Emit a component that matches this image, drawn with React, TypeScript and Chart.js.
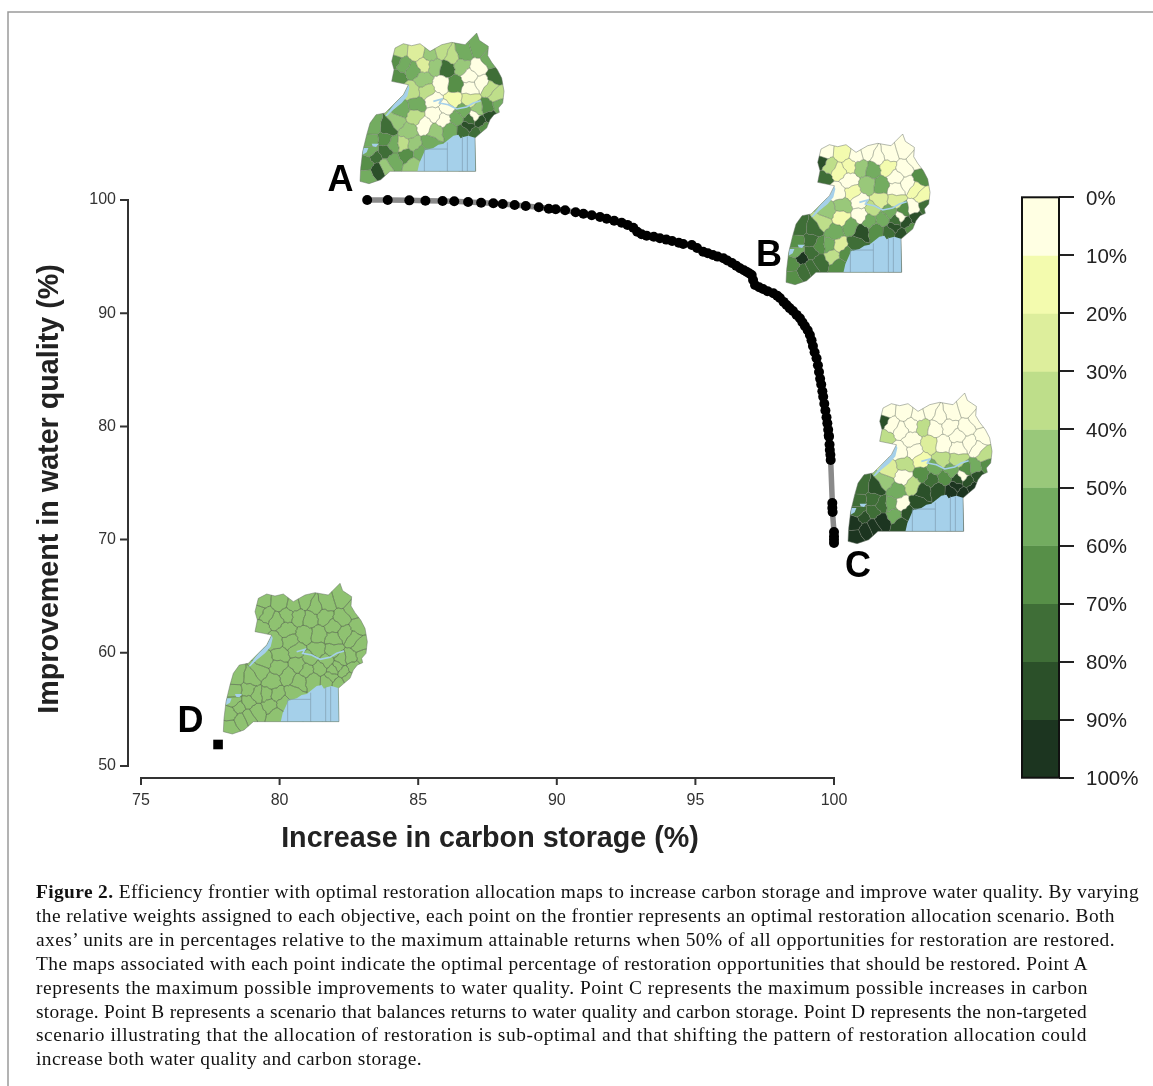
import React, { useEffect, useRef } from "react";
import { Chart, registerables } from "chart.js";

Chart.register(...registerables);

// ---- chart data ----
const carbonStorage = [
  83.16, 83.9, 84.68, 85.26, 85.88, 86.3, 86.8, 87.27, 87.71, 88.05, 88.48, 88.88, 89.35, 89.71, 89.96, 90.3, 90.68,
  90.96, 91.26, 91.56, 91.8, 92.07, 92.34, 92.55, 92.76, 92.9, 93.06, 93.24, 93.5, 93.72, 93.95, 94.16, 94.4, 94.56,
  94.87, 95.06, 95.28, 95.45, 95.63, 95.8, 96.01, 96.15, 96.32, 96.47, 96.61, 96.75, 96.86, 96.95, 97.03, 97.08, 97.15,
  97.3, 97.44, 97.6, 97.81, 97.95, 98.05, 98.18, 98.29, 98.4, 98.52, 98.65, 98.77, 98.86, 98.95, 99.05, 99.13, 99.19,
  99.24, 99.3, 99.37, 99.42, 99.46, 99.5, 99.54, 99.58, 99.61, 99.65, 99.69, 99.73, 99.76, 99.79, 99.81, 99.82, 99.84,
  99.85, 99.87, 99.88, 99.94, 99.94, 99.95, 100, 100, 100, 100,
];
const waterQuality = [
  100, 100, 99.97, 99.94, 99.91, 99.89, 99.82, 99.76, 99.71, 99.65, 99.56, 99.47, 99.36, 99.23, 99.18, 99.09, 98.91,
  98.79, 98.65, 98.5, 98.35, 98.17, 97.99, 97.8, 97.55, 97.2, 96.97, 96.85, 96.75, 96.62, 96.5, 96.38, 96.22, 96.11,
  96.02, 95.76, 95.43, 95.3, 95.14, 95.0, 94.85, 94.65, 94.43, 94.2, 93.97, 93.8, 93.64, 93.5, 93.37, 92.93, 92.49,
  92.3, 92.14, 91.95, 91.76, 91.55, 91.34, 91.0, 90.72, 90.45, 90.19, 89.85, 89.55, 89.2, 88.87, 88.5, 88.07, 87.6,
  87.1, 86.55, 86.02, 85.4, 84.8, 84.2, 83.7, 83.1, 82.62, 82.0, 81.4, 80.8, 80.27, 79.7, 79.2, 79.09, 78.4,
  77.92, 77.5, 77.03, 73.23, 72.8, 72.44, 70.67, 70.3, 70.0, 69.7,
];
const nonTargetedCarbon = [77.78];
const nonTargetedWater = [51.9];
const xTicks = [75, 80, 85, 90, 95, 100];
const yTicks = [50, 60, 70, 80, 90, 100];
const pointLabels = ["A", "B", "C", "D"];
const xTitle = "Increase in carbon storage (%)";
const yTitle = "Improvement in water quality (%)";

const legendTicks = [0, 10, 20, 30, 40, 50, 60, 70, 80, 90, 100];
const legendColors = [
  "#FFFFE3", "#F3FBAE", "#DDEE9C", "#BEDE8A", "#99C87A", "#73AC60", "#578F48", "#3F6E37", "#2B5029", "#1C3520",
];

// district shading class
const mapALevels = [3,2,5,6,6,5,4,3,5,5,4,7,4,0,7,3,0,0,6,0,3,3,5,5,0,1,2,6,4,0,3,4,0,5,7,8,6,7,5,4,4,5,7,7,5,5,4,5,6,4,7,6,8,5,5,6,4,5,0, 0,3,2,5,8,0,5,0,8,3,5,7,4,5,3];
const mapBLevels = [0,1,3,8,7,1,0,0,0,0,4,5,1,0,6,1,0,0,5,4,1,0,4,4,0,2,2,0,6,0,1,3,5,5,7,8,6,7,7,5,8,6,7,8,6,6,2,7,3,6,9,6,7,7,6,7,0,0,5, 0,0,1,7,8,0,5,3,8,5,6,7,7,5,1];
const mapCLevels = [0,0,0,8,3,0,0,0,0,0,3,0,0,0,0,3,0,0,0,2,0,0,3,2,1,3,3,5,6,6,0,4,3,6,8,8,9,8,7,5,8,8,9,9,7,7,0,8,5,8,8,9,9,9,9,7,0,0,7, 0,0,0,6,8,0,5,5,9,5,8,7,9,7,0];
const mapDColor = "#8FC271";

const captionLines = [
  ["Figure 2.", " Efficiency frontier with optimal restoration allocation maps to increase carbon storage and improve water quality. By varying"],
  ["", "the relative weights assigned to each objective, each point on the frontier represents an optimal restoration allocation scenario. Both"],
  ["", "axes\u2019 units are in percentages relative to the maximum attainable returns when 50% of all opportunities for restoration are restored."],
  ["", "The maps associated with each point indicate the optimal percentage of restoration opportunities that should be restored. Point A"],
  ["", "represents the maximum possible improvements to water quality. Point C represents the maximum possible increases in carbon"],
  ["", "storage. Point B represents a scenario that balances returns to water quality and carbon storage. Point D represents the non-targeted"],
  ["", "scenario illustrating that the allocation of restoration is sub-optimal and that shifting the pattern of restoration allocation could"],
  ["", "increase both water quality and carbon storage."],
];
const captionRight = [1139, 1115, 1115, 1088, 1088, 1087, 1087, 422];

// ---- inset map geometry (map units, 3 units = 1 px) ----
type P = [number, number];
const landOutline: P[] = [
  [660,40],[668,62],[680,70],[695,80],[693,108],[705,128],[722,150],[735,175],[742,215],[738,250],[725,265],[728,278],
  [712,285],[700,300],[690,325],[672,340],[655,355],[657,455],[400,455],[372,480],[337,492],[310,485],[312,445],[318,395],
  [330,345],[340,310],[358,285],[385,280],[415,250],[440,225],[455,195],[430,190],[405,185],[412,150],[405,125],[415,85],
  [440,72],[465,78],[490,72],[520,95],[555,75],[585,68],[625,75],
];
const lakeVictoria: P[] = [
  [482,456],[488,430],[505,392],[530,385],[545,375],[560,372],[575,360],[590,348],[605,345],[612,356],[620,352],[635,348],[657,355],[657,456],
];
const lakeAlbert: P[] = [[385,290],[415,250],[440,225],[455,195],[458,205],[452,230],[435,250],[410,270],[392,288]];
const lakeEdward: P[] = [[318,385],[335,385],[330,398],[318,405]];
const lakeGeorge: P[] = [[345,372],[366,372],[358,382],[348,380]];
const kyogaLine: P[] = [[530,245],[555,238],[548,250],[575,255],[600,268],[630,262],[650,250],[672,243]];
const lakeBorders: P[][] = [
  [[503,390],[503,455]], [[503,388],[572,388]], [[572,368],[572,455]], [[617,350],[617,455]], [[632,350],[632,455]],
];
const districtSeeds: P[] = [
  [425,95],[480,100],[440,135],[415,122],[420,175],[470,150],[500,180],[555,95],[620,100],[665,85],[535,140],[570,145],
  [615,140],[665,145],[715,170],[720,225],[675,190],[640,205],[595,195],[555,195],[510,215],[465,215],[480,255],[435,270],
  [530,240],[590,240],[640,240],[690,265],[665,270],[535,285],[475,290],[420,305],[505,318],[600,295],[640,300],[700,290],
  [685,325],[395,325],[350,320],[455,335],[535,335],[580,330],[620,335],[655,340],[345,365],[410,375],[470,375],[520,370],
  [450,405],[470,435],[355,410],[330,430],[365,450],[410,425],[330,470],[385,360],[520,105],[700,120],[560,300],
  [640,170],[585,110],[500,135],[730,260],[670,305],[655,290],[620,275],[570,265],[635,320],[440,375],[490,400],[385,395],
  [385,440],[345,395],[700,205],
];
const mapOrigins: P[] = [[256.7, 19.7], [682.7, 120.7], [744.7, 379.7], [120, 570]];
const labelCenters: P[] = [[340.5, 181], [769, 256], [858, 567], [190.5, 722]];

function voronoiCell(i: number): P[] {
  let poly: P[] = [[250, 0], [800, 0], [800, 520], [250, 520]];
  const a = districtSeeds[i];
  districtSeeds.forEach((b, j) => {
    if (j === i) return;
    const mx = (a[0] + b[0]) / 2, my = (a[1] + b[1]) / 2;
    const nx = b[0] - a[0], ny = b[1] - a[1];
    const side = (p: P) => (p[0] - mx) * nx + (p[1] - my) * ny;
    const out: P[] = [];
    poly.forEach((p, k) => {
      const q = poly[(k + 1) % poly.length];
      const sp = side(p), sq = side(q);
      if (sp <= 0) out.push(p);
      if ((sp < 0 && sq > 0) || (sp > 0 && sq < 0)) {
        const t = sp / (sp - sq);
        out.push([p[0] + (q[0] - p[0]) * t, p[1] + (q[1] - p[1]) * t]);
      }
    });
    poly = out;
  });
  return poly;
}

// district edges bend a little, the same way seen from both sides
function bendEdges(cell: P[]): P[] {
  const out: P[] = [];
  cell.forEach((p, k) => {
    const q = cell[(k + 1) % cell.length];
    out.push(p);
    const swap = p[0] > q[0] || (p[0] === q[0] && p[1] > q[1]);
    const s = swap ? q : p, e = swap ? p : q;
    const dx = e[0] - s[0], dy = e[1] - s[1];
    const len = Math.hypot(dx, dy);
    if (len < 14) return;
    const phase = Math.round(s[0] + e[0]) * 0.37 + Math.round(s[1] + e[1]) * 0.71;
    const pts: P[] = [0.25, 0.5, 0.75].map((t, m) => {
      const off = Math.sin(phase + m * 2.1) * Math.min(2.5, len * 0.07);
      return [s[0] + dx * t - (dy / len) * off, s[1] + dy * t + (dx / len) * off];
    });
    if (swap) pts.reverse();
    pts.forEach((pt) => out.push(pt));
  });
  return out;
}
const districtCells = districtSeeds.map((_, i) => bendEdges(voronoiCell(i)));

function tracePoly(ctx: CanvasRenderingContext2D, o: P, pts: P[], close = true) {
  ctx.beginPath();
  pts.forEach((p, i) => {
    const x = o[0] + p[0] / 3, y = o[1] + p[1] / 3;
    if (i === 0) ctx.moveTo(x, y); else ctx.lineTo(x, y);
  });
  if (close) ctx.closePath();
}

function drawMap(ctx: CanvasRenderingContext2D, o: P, colorOf: (i: number) => string, edge: string) {
  ctx.save();
  tracePoly(ctx, o, landOutline);
  ctx.clip();
  districtCells.forEach((cell, i) => {
    tracePoly(ctx, o, cell);
    ctx.fillStyle = colorOf(i);
    ctx.fill();
  });
  ctx.lineWidth = 0.5;
  ctx.strokeStyle = edge;
  districtCells.forEach((cell) => {
    tracePoly(ctx, o, cell);
    ctx.stroke();
  });
  const blue = "#A5D0EA";
  [lakeVictoria, lakeAlbert, lakeEdward, lakeGeorge].forEach((l) => {
    tracePoly(ctx, o, l);
    ctx.fillStyle = blue;
    ctx.fill();
  });
  tracePoly(ctx, o, kyogaLine, false);
  ctx.strokeStyle = blue;
  ctx.lineWidth = 1.6;
  ctx.stroke();
  ctx.strokeStyle = "#7F9DB0";
  ctx.lineWidth = 0.7;
  lakeBorders.forEach((l) => {
    tracePoly(ctx, o, l, false);
    ctx.stroke();
  });
  ctx.restore();
  tracePoly(ctx, o, landOutline);
  ctx.lineWidth = 0.6;
  ctx.strokeStyle = "rgba(100,110,100,0.8)";
  ctx.stroke();
}

const mapsAndAxes = {
  id: "mapsAndAxes",
  beforeDatasetsDraw(chart: any) {
    const ctx: CanvasRenderingContext2D = chart.ctx;
    const { x, y } = chart.scales;
    // page frame
    ctx.strokeStyle = "#9a9a9a";
    ctx.lineWidth = 1.5;
    ctx.beginPath();
    ctx.moveTo(8, 1086);
    ctx.lineTo(8, 12);
    ctx.lineTo(1153, 12);
    ctx.stroke();
    // detached axes
    const axisY = 778, axisX = 128;
    ctx.strokeStyle = "#333";
    ctx.lineWidth = 2;
    ctx.beginPath();
    ctx.moveTo(x.getPixelForValue(xTicks[0]) - 1, axisY);
    ctx.lineTo(x.getPixelForValue(xTicks[xTicks.length - 1]) + 1, axisY);
    xTicks.forEach((t) => {
      ctx.moveTo(x.getPixelForValue(t), axisY);
      ctx.lineTo(x.getPixelForValue(t), axisY + 7);
    });
    ctx.moveTo(axisX, y.getPixelForValue(yTicks[0]) + 1);
    ctx.lineTo(axisX, y.getPixelForValue(yTicks[yTicks.length - 1]) - 1);
    yTicks.forEach((t) => {
      ctx.moveTo(axisX, y.getPixelForValue(t));
      ctx.lineTo(axisX - 8, y.getPixelForValue(t));
    });
    ctx.stroke();
    // axis titles
    ctx.fillStyle = "#222";
    ctx.font = "bold 28.7px 'Liberation Sans'";
    ctx.textAlign = "center";
    ctx.textBaseline = "middle";
    ctx.fillText(xTitle, 490, 839);
    ctx.save();
    ctx.translate(50, 489);
    ctx.rotate(-Math.PI / 2);
    ctx.fillText(yTitle, 0, 0);
    ctx.restore();
    // inset maps
    const edge = "rgba(110,120,105,0.6)";
    drawMap(ctx, mapOrigins[0], (i) => legendColors[mapALevels[i]], edge);
    drawMap(ctx, mapOrigins[1], (i) => legendColors[mapBLevels[i]], edge);
    drawMap(ctx, mapOrigins[2], (i) => legendColors[mapCLevels[i]], edge);
    drawMap(ctx, mapOrigins[3], () => mapDColor, "rgba(70,85,60,0.7)");
    // point labels
    ctx.fillStyle = "#000";
    ctx.font = "bold 36px 'Liberation Sans'";
    pointLabels.forEach((l, i) => ctx.fillText(l, labelCenters[i][0], labelCenters[i][1]));
  },
};

const colorbarFrame = {
  id: "colorbarFrame",
  afterDraw(chart: any) {
    const { ctx, chartArea: a } = chart;
    ctx.strokeStyle = "#111";
    ctx.lineWidth = 2;
    ctx.strokeRect(a.left, a.top, a.right - a.left, a.bottom - a.top);
  },
};

export default function App() {
  const mainRef = useRef<HTMLCanvasElement>(null);
  const barRef = useRef<HTMLCanvasElement>(null);
  const capRef = useRef<HTMLDivElement>(null);

  useEffect(() => {
    const tickFont = { family: "'Liberation Sans'", size: 16 };
    const main = new Chart(mainRef.current!, {
      type: "scatter",
      data: {
        datasets: [
          {
            label: "Efficiency frontier",
            data: carbonStorage.map((c, i) => ({ x: c, y: waterQuality[i] })),
            showLine: true,
            borderColor: "#8a8a8a",
            borderWidth: 5.5,
            pointRadius: 5,
            pointBackgroundColor: "#000",
            pointBorderWidth: 0,
            clip: false,
          },
          {
            label: "Non-targeted",
            data: nonTargetedCarbon.map((c, i) => ({ x: c, y: nonTargetedWater[i] })),
            pointStyle: "rect",
            pointRadius: 6.8,
            pointBackgroundColor: "#000",
            pointBorderWidth: 0,
            clip: false,
          },
        ],
      } as any,
      options: {
        animation: false,
        responsive: false,
        devicePixelRatio: 1,
        layout: { padding: { left: 0, right: 319, top: 200, bottom: 0 } },
        plugins: { legend: { display: false }, tooltip: { enabled: false } },
        scales: {
          x: {
            type: "linear",
            min: 75,
            max: 100,
            afterBuildTicks: (s: any) => { s.ticks = xTicks.map((value) => ({ value })); },
            afterFit: (s: any) => { s.height = 320; },
            grid: { display: false },
            border: { display: false },
            ticks: { font: tickFont, color: "#333", padding: 17, maxRotation: 0 },
          },
          y: {
            type: "linear",
            min: 50,
            max: 100,
            afterBuildTicks: (s: any) => { s.ticks = yTicks.map((value) => ({ value })); },
            afterFit: (s: any) => { s.width = 141; },
            grid: { display: false },
            border: { display: false },
            ticks: { font: tickFont, color: "#333", padding: 17 },
          },
        },
      } as any,
      plugins: [mapsAndAxes],
    });

    const bar = new Chart(barRef.current!, {
      type: "bar",
      data: {
        labels: ["Restored"],
        datasets: legendColors.map((c, i) => ({
          label: `${legendTicks[i]}-${legendTicks[i + 1]}%`,
          data: [legendTicks[i + 1] - legendTicks[i]],
          backgroundColor: c,
          borderWidth: 0,
          barPercentage: 1,
          categoryPercentage: 1,
        })),
      },
      options: {
        animation: false,
        responsive: false,
        devicePixelRatio: 1,
        layout: { padding: { left: 22, right: 0, top: 0, bottom: 0 } },
        plugins: { legend: { display: false }, tooltip: { enabled: false } },
        scales: {
          x: { stacked: true, display: false },
          y: {
            stacked: true,
            reverse: true,
            position: "right",
            min: 0,
            max: 100,
            afterBuildTicks: (s: any) => { s.ticks = legendTicks.map((value) => ({ value })); },
            afterFit: (s: any) => { s.width = 94; },
            border: { display: false },
            grid: { drawOnChartArea: false, tickLength: 15, tickColor: "#222", lineWidth: 2 },
            ticks: {
              font: { family: "'Liberation Sans'", size: 20.5 },
              color: "#222",
              padding: 12,
              labelOffset: 2,
              callback: (v: any) => `${v}%`,
            },
          },
        },
      } as any,
      plugins: [colorbarFrame],
    });

    // fit every caption line to the measure it has in the reference
    const spans = capRef.current!.querySelectorAll("span.line");
    spans.forEach((el: any, i) => {
      const n = el.textContent.length;
      const w = el.getBoundingClientRect().width;
      el.style.letterSpacing = `${(captionRight[i] - 36 - w) / n}px`;
    });

    return () => {
      main.destroy();
      bar.destroy();
    };
  }, []);

  return (
    <div style={{ position: "absolute", left: 0, top: 0, width: 1153, height: 1086, background: "#fff", overflow: "hidden" }}>
      <canvas ref={mainRef} width={1153} height={1086} style={{ position: "absolute", left: 0, top: 0 }} />
      <canvas ref={barRef} width={153} height={629} style={{ position: "absolute", left: 1000, top: 173 }} />
      <div ref={capRef}>
        {captionLines.map((l, i) => (
          <span
            key={i}
            className="line"
            style={{
              position: "absolute",
              left: 36,
              top: 880 + i * 23.9,
              whiteSpace: "nowrap",
              fontFamily: "'Liberation Serif'",
              fontSize: 19.4,
              lineHeight: "24px",
              color: "#111",
            }}
          >
            {l[0] ? <b>{l[0]}</b> : null}
            {l[1]}
          </span>
        ))}
      </div>
    </div>
  );
}
